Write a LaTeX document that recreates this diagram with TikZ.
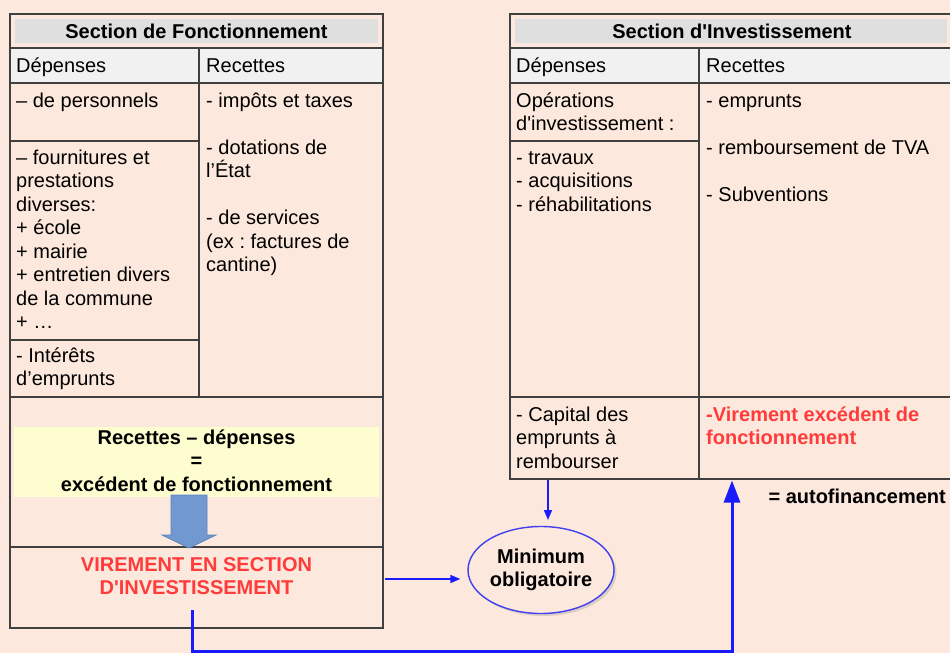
\documentclass[tikz,border=0pt]{standalone}
\usepackage{fontspec}
\setmainfont{Liberation Sans}
\usetikzlibrary{arrows.meta,shapes.geometric,calc,shadows}
\frenchspacing
\definecolor{bg}{HTML}{FCE8DC}
\definecolor{hdrgrey}{HTML}{DFDFDF}
\definecolor{colhdr}{HTML}{F1F1F1}
\definecolor{lineg}{HTML}{404040}
\definecolor{yel}{HTML}{FEFDCF}
\definecolor{redt}{HTML}{FF3B3B}
\definecolor{bluel}{HTML}{1A1AFF}
\definecolor{ellb}{HTML}{4040F0}
\definecolor{arrfill}{HTML}{7199CF}
\definecolor{arrdraw}{HTML}{5A84BE}
\begin{document}
\begin{tikzpicture}[x=1pt,y=-1pt,
  cellbox/.style={draw=lineg,line width=1.1pt,fill=bg,anchor=north west,inner sep=0pt,outer sep=0pt},
  hdrbox/.style={cellbox,fill=colhdr},
  txt/.style={anchor=north west,inner sep=0pt,align=left,font=\fontsize{20}{23.5}\selectfont},
  btxt/.style={inner sep=0pt,align=center,font=\bfseries\fontsize{20}{23.5}\selectfont},
  thinarrow/.style={draw=bluel,line width=1.5pt,-{Triangle[length=10pt,width=8pt]}},
  thickarrow/.style={draw=bluel,line width=3pt,-{Triangle[length=22pt,width=16pt]}}]
\fill[bg] (0,0) rectangle (950,653);
\useasboundingbox (0,0) rectangle (950,653);

% ---------- Section de Fonctionnement ----------
\node[cellbox,minimum width=373pt,minimum height=34pt] (hdrL) at (10,14) {};
\fill[hdrgrey] (15,19) rectangle (378,43);
\node[btxt] (titL) at (196.5,31) {Section de Fonctionnement};
\node[hdrbox,minimum width=189pt,minimum height=35pt] (dL) at (10,48) {};
\node[hdrbox,minimum width=184pt,minimum height=35pt] (rL) at (199,48) {};
\node[cellbox,minimum width=189pt,minimum height=58pt] (dL1) at (10,83) {};
\node[cellbox,minimum width=189pt,minimum height=199pt] (dL2) at (10,141) {};
\node[cellbox,minimum width=189pt,minimum height=57pt] (dL3) at (10,340) {};
\node[cellbox,minimum width=184pt,minimum height=314pt] (rL1) at (199,83) {};
\node[cellbox,minimum width=373pt,minimum height=150pt] (exc) at (10,397) {};
\node[cellbox,minimum width=373pt,minimum height=81pt] (vir) at (10,547) {};

\node[txt] (tdL) at (16,57) {\rule{0pt}{15pt}Dépenses};
\node[txt] (trL) at (206,57) {\rule{0pt}{15pt}Recettes};
\node[txt] (tdL1) at (16,92) {\rule{0pt}{15pt}– de personnels};
\node[txt] (tdL2) at (16,149) {\rule{0pt}{15pt}– fournitures et\\prestations\\diverses:\\+ école\\+ mairie\\+ entretien divers\\de la commune\\+ …};
\node[txt] (tdL3) at (16,347) {\rule{0pt}{15pt}- Intérêts\\d’emprunts};
\node[txt] (trL1) at (206,92) {\rule{0pt}{15pt}- impôts et taxes\\[23.5pt]- dotations de\\l’État\\[23.5pt]- de services\\(ex : factures de\\cantine)};

\fill[yel] (14,427) rectangle (379,497);
\node[btxt,anchor=north] (res) at (196.5,429) {\rule{0pt}{15pt}Recettes – dépenses\\=\\excédent de fonctionnement};
\filldraw[fill=arrfill,draw=arrdraw,line width=0.8pt]
  (171,495) -- (207,495) -- (207,535) -- (216,535) -- (189,548) -- (162,535) -- (171,535) -- cycle;
\node[btxt,anchor=north,text=redt] (tvir) at (196.5,556) {\rule{0pt}{15pt}VIREMENT EN SECTION\\D\textquotesingle INVESTISSEMENT};

% ---------- Section d'Investissement ----------
\node[cellbox,minimum width=445pt,minimum height=34pt] (hdrR) at (510,14) {};
\fill[hdrgrey] (515,19) rectangle (947,43);
\node[btxt] (titR) at (732,31) {Section d\textquotesingle Investissement};
\node[hdrbox,minimum width=189pt,minimum height=35pt] (dR) at (510,48) {};
\node[hdrbox,minimum width=256pt,minimum height=35pt] (rR) at (699,48) {};
\node[cellbox,minimum width=189pt,minimum height=58pt] (dR1) at (510,83) {};
\node[cellbox,minimum width=189pt,minimum height=256pt] (dR2) at (510,141) {};
\node[cellbox,minimum width=256pt,minimum height=314pt] (rR1) at (699,83) {};
\node[cellbox,minimum width=189pt,minimum height=82pt] (cap) at (510,397) {};
\node[cellbox,minimum width=256pt,minimum height=82pt] (vex) at (699,397) {};

\node[txt] (tdR) at (516,57) {\rule{0pt}{15pt}Dépenses};
\node[txt] (trR) at (706,57) {\rule{0pt}{15pt}Recettes};
\node[txt] (tdR1) at (516,92) {\rule{0pt}{15pt}Opérations\\d\textquotesingle investissement :};
\node[txt] (tdR2) at (516,149) {\rule{0pt}{15pt}- travaux\\- acquisitions\\- réhabilitations};
\node[txt] (trR1) at (706,92) {\rule{0pt}{15pt}- emprunts\\[23.5pt]- remboursement de TVA\\[23.5pt]- Subventions};
\node[txt] (tcap) at (516,406) {\rule{0pt}{15pt}- Capital des\\emprunts à\\rembourser};
\node[txt,font=\bfseries\fontsize{20}{23.5}\selectfont,text=redt] (tvex) at (706,406) {\rule{0pt}{15pt}-Virement excédent de\\fonctionnement};

\node[btxt,anchor=east] (auto) at (946,496) {= autofinancement};

% ---------- Ellipse and connectors ----------
\node[ellipse,draw=ellb,line width=1.4pt,fill=bg,minimum width=146pt,minimum height=87pt,inner sep=0pt,
      drop shadow={shadow xshift=2.5pt,shadow yshift=-2.5pt,opacity=0.25},
      align=center,font=\bfseries\fontsize{20}{23}\selectfont] (mini) at (541,570) {Minimum\\obligatoire};

\draw[thinarrow] ([xshift=2pt]vir.east |- 0,579) -- ([xshift=-7pt]mini.west |- 0,579);
\draw[thinarrow] ([xshift=-56.5pt,yshift=-1pt]cap.south) -- ++(0,40);
\draw[thickarrow] ([xshift=-4.5pt,yshift=18pt]vir.south) -- ++(0,41.5) -| ([xshift=-95pt,yshift=-1.5pt]vex.south);
\end{tikzpicture}
\end{document}
